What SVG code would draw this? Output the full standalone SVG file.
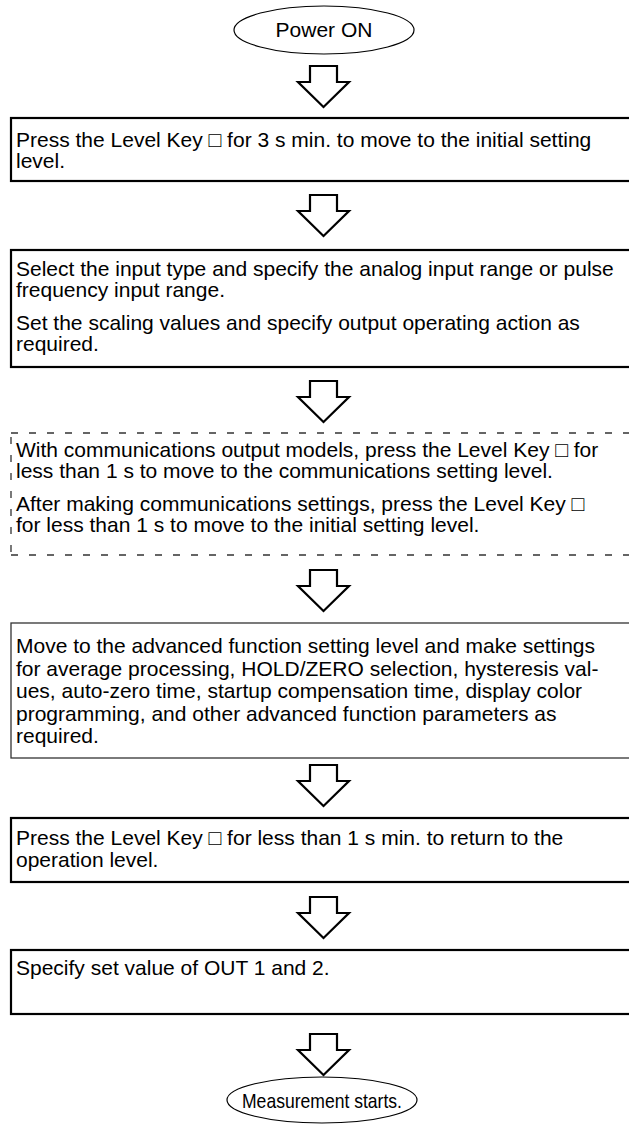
<svg xmlns="http://www.w3.org/2000/svg" width="629" height="1124" viewBox="0 0 629 1124">
<defs>
<style>
text{font-family:"Liberation Sans",Arial,Helvetica,sans-serif;font-size:21px;fill:#000}
.term{fill:#fff;stroke:#000;stroke-width:1.2}
.box{fill:#fff;stroke:#000;stroke-width:2.2}
.thin{fill:#fff;stroke:#333;stroke-width:1.3}
.dash{fill:none;stroke:#333;stroke-width:1.3;stroke-dasharray:7 11}
.arr{fill:#fff;stroke:#000;stroke-width:2.2;stroke-linejoin:miter}
</style>
<path id="ar" d="M310,0 H337 V16 H349 L323.5,41 L298,16 H310 Z"/>
</defs>
<g id="connectors">
<use href="#ar" class="arr" y="66"/>
<use href="#ar" class="arr" y="195"/>
<use href="#ar" class="arr" y="381"/>
<use href="#ar" class="arr" y="570"/>
<use href="#ar" class="arr" y="765"/>
<use href="#ar" class="arr" y="897"/>
<use href="#ar" class="arr" y="1034"/>
</g>
<g id="start">
<ellipse class="term" cx="324" cy="30" rx="90" ry="24"/>
<text x="324" y="37" text-anchor="middle">Power ON</text>
</g>
<g id="step1">
<rect class="box" x="11" y="118" width="640" height="63"/>
<text x="16" y="147">Press the Level Key □ for 3 s min. to move to the initial setting</text>
<text x="16" y="168">level.</text>
</g>
<g id="step2">
<rect class="box" x="11" y="250" width="640" height="117"/>
<text x="16" y="276">Select the input type and specify the analog input range or pulse</text>
<text x="16" y="297">frequency input range.</text>
<text x="16" y="330">Set the scaling values and specify output operating action as</text>
<text x="16" y="351">required.</text>
</g>
<g id="step3">
<line class="dash" x1="11" y1="433" x2="629" y2="433"/>
<line class="dash" x1="11" y1="555" x2="629" y2="555"/>
<line class="dash" x1="11" y1="437" x2="11" y2="555"/>
<text x="16" y="457">With communications output models, press the Level Key □ for</text>
<text x="16" y="478">less than 1 s to move to the communications setting level.</text>
<text x="16" y="511">After making communications settings, press the Level Key □</text>
<text x="16" y="532">for less than 1 s to move to the initial setting level.</text>
</g>
<g id="step4">
<rect class="thin" x="11" y="623" width="640" height="135"/>
<text x="16" y="653">Move to the advanced function setting level and make settings</text>
<text x="16" y="675.5">for average processing, HOLD/ZERO selection, hysteresis val-</text>
<text x="16" y="698">ues, auto-zero time, startup compensation time, display color</text>
<text x="16" y="720.5">programming, and other advanced function parameters as</text>
<text x="16" y="743">required.</text>
</g>
<g id="step5">
<rect class="box" x="11" y="818" width="640" height="64"/>
<text x="16" y="845">Press the Level Key □ for less than 1 s min. to return to the</text>
<text x="16" y="867">operation level.</text>
</g>
<g id="step6">
<rect class="box" x="11" y="950" width="640" height="64"/>
<text x="16" y="975">Specify set value of OUT 1 and 2.</text>
</g>
<g id="end">
<ellipse class="term" cx="322" cy="1100" rx="95" ry="23"/>
<text x="322" y="1108" text-anchor="middle" textLength="160" lengthAdjust="spacingAndGlyphs">Measurement starts.</text>
</g>
</svg>
